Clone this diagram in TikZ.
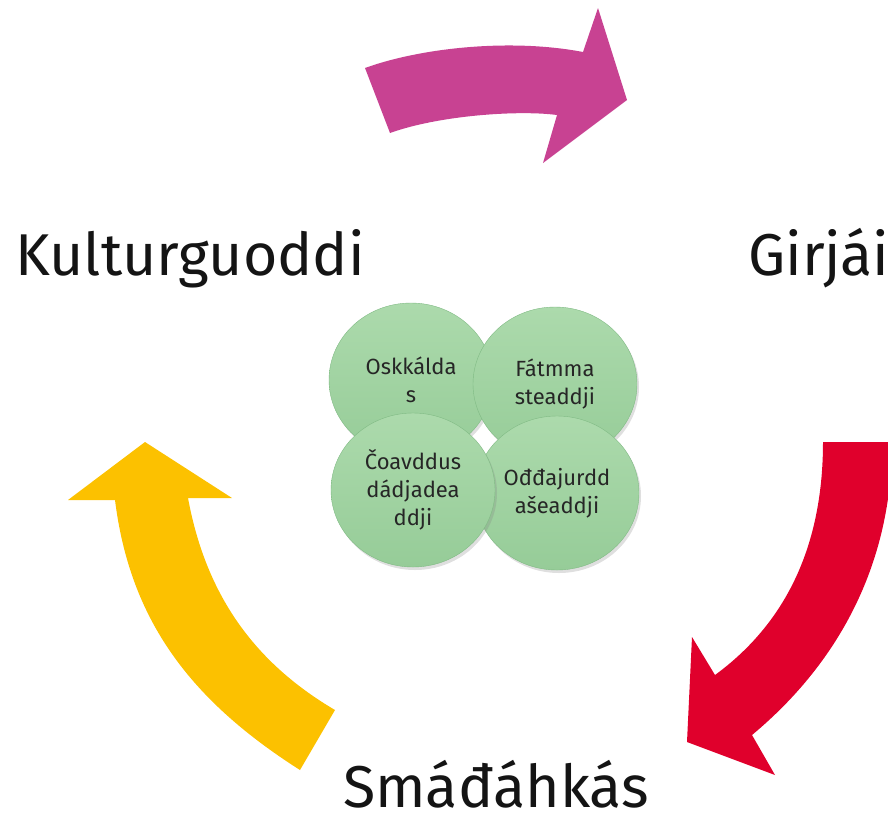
\documentclass[tikz,border=0pt]{standalone}
\usepackage{fontspec}
\setmainfont{Fira Sans}
\usepackage{tikz}
\usetikzlibrary{positioning, shapes.geometric, shadows}

\definecolor{pinkarrow}{RGB}{200,66,146}
\definecolor{redarrow}{RGB}{224,0,44}
\definecolor{goldarrow}{RGB}{252,193,0}
\definecolor{bubbletop}{RGB}{172,218,172}
\definecolor{bubblebot}{RGB}{150,204,152}
\definecolor{bubbleline}{RGB}{128,186,132}

\begin{document}
\begin{tikzpicture}[x=1pt, y=-1pt]
        \tikzstyle{every node}=[inner sep=0pt]
        \tikzstyle{bubble}=[ellipse, draw=bubbleline, top color=bubbletop, bottom color=bubblebot,
            minimum width=164pt, minimum height=154pt, align=center, text=black!85,
            font=\fontsize{22}{28}\selectfont,
            drop shadow={opacity=0.25, shadow xshift=2pt, shadow yshift=-3pt}]
        \tikzstyle{stage}=[anchor=base west, text=black!92, font=\fontsize{59}{70}\selectfont]

        \useasboundingbox (0,0) rectangle (888,823);
        \clip (0,0) rectangle (888,823);

        \fill[pinkarrow] (365,68) .. controls (420,48) and (510,38) .. (583,52)
            -- (598,8) -- (627,100) -- (543,163) -- (557,115)
            .. controls (520,110) and (440,115) .. (390,133) -- cycle;

        \fill[redarrow] (823,442) -- (892,442) .. controls (892,560) and (842,660) .. (752,735)
            -- (775,775) -- (687,742) -- (692,637) -- (715,675)
            .. controls (790,620) and (823,540) .. (823,442) -- cycle;

        \fill[goldarrow] (145,442) -- (232,498) -- (188,498)
            .. controls (205,590) and (250,660) .. (335,710) -- (300,770)
            .. controls (190,700) and (130,620) .. (115,500) -- (68,500) -- cycle;

        \node (kultur) [stage] at (15,275) {Kulturguoddi};
        \node (girjai) [stage] at (748,275) {Girjái};
        \node (smadahkas) [stage] at (343,807) {Smáđáhkás};

        \node (oskkaldas) [bubble] at (411,380) {Oskkálda\\s};
        \node (fatmma) [bubble] at (555,384) {Fátmma\\steaddji};
        \node (oddajurdd) [bubble] at (557,493) {Ođđajurdd\\ašeaddji};
        \node (coavddus) [bubble] at (413,490) {Čoavddus\\dádjadea\\ddji};

    \end{tikzpicture}
\end{document}
